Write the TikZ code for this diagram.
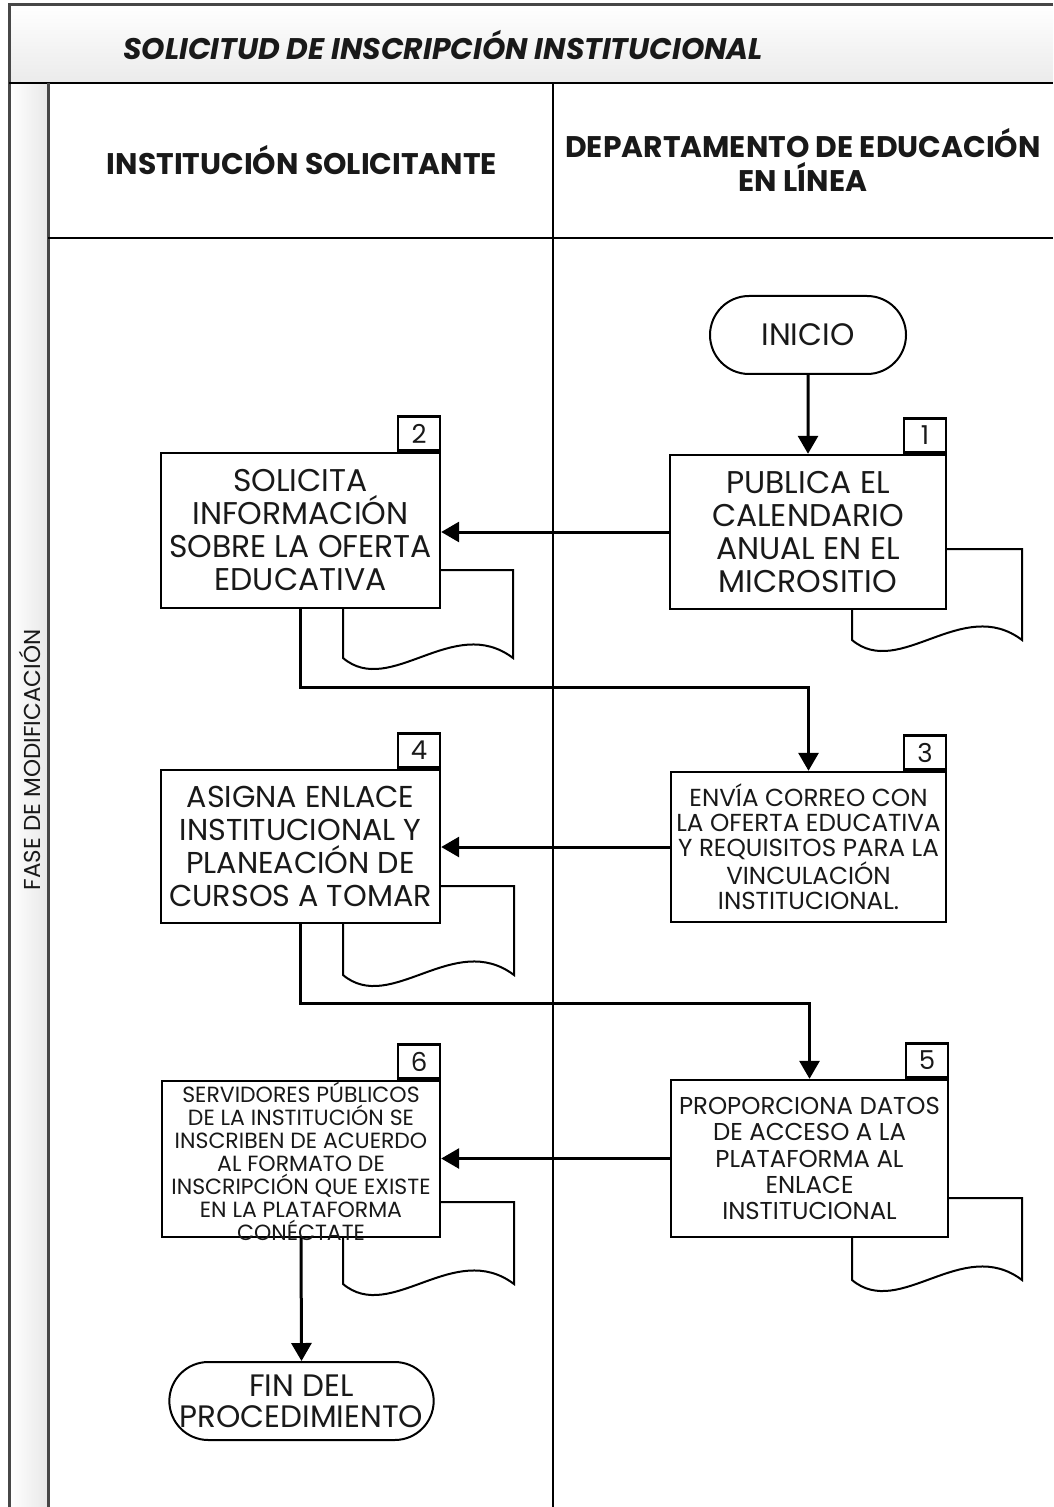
\documentclass[tikz,border=0pt]{standalone}
\usepackage{fontspec}
\setmainfont{Poppins}
\usetikzlibrary{arrows.meta,shapes.misc,calc}
\newcommand{\mydoc}[4]{%
  \draw[doc] (#1,#3) -- (#1,#4) .. controls ($(#1,#4)+(0.28*#2-0.28*#1,40)$) and ($(#1,#4)+(0.65*#2-0.65*#1,-45)$) .. (#2,#4) -- (#2,#3) -- cycle;}
\begin{document}
\begin{tikzpicture}[x=0.5pt,y=-0.5pt,
  proc/.style={draw=black, line width=1.2pt, fill=white, align=center, inner sep=0pt, text=black!90, font=\fontsize{15.7}{16.5}\selectfont},
  numbox/.style={draw=black, line width=1.2pt, fill=white, minimum width=21pt, minimum height=17pt, inner sep=0pt, anchor=south east, font=\fontsize{13}{15}\selectfont, text=black!90},
  term/.style={draw=black, line width=1pt, rounded rectangle, fill=white, align=center, inner sep=0pt, text=black!90, font=\fontsize{15.5}{15.5}\selectfont},
  doc/.style={draw=black, line width=1pt, fill=white},
  flow/.style={line width=1.5pt, -{Triangle[length=9pt,width=10pt]}},
  lane/.style={line width=1.3pt},
  frame/.style={draw=black!72, line width=1.5pt},
  hdr/.style={font=\fontsize{14.9}{17}\selectfont\bfseries, align=center, text=black!90},
]
\useasboundingbox (0,0) rectangle (1053,1507);
% backgrounds
\shade[top color=white, bottom color=black!8] (9,5) rectangle (1053,83);
\shade[left color=white, right color=black!9] (9,83) rectangle (48,1507);
% lane lines
\draw[frame] (1053,5) -- (9,5) -- (9,1507);
\draw[lane] (9,83) -- (1053,83);
\draw[frame] (48,83) -- (48,1507);
\draw[lane] (553,83) -- (553,1507);
\draw[lane] (48,238) -- (1053,238);
% titles
\node[anchor=west, font=\fontsize{14.9}{16}\selectfont\bfseries\itshape, text=black!90] (title) at (116,45) {SOLICITUD DE INSCRIPCIÓN INSTITUCIONAL};
\node[hdr] (h1) at (302,160) {INSTITUCIÓN SOLICITANTE};
\node[hdr] (h2) at (803,160) {DEPARTAMENTO DE EDUCACIÓN\\EN LÍNEA};
\node[rotate=90, font=\fontsize{11.5}{13}\selectfont, text=black!90] (phase) at (30,760) {FASE DE MODIFICACIÓN};
% documents
\mydoc{852}{1022}{549}{640}
\mydoc{343}{513}{570}{658}
\mydoc{343}{514}{886}{975}
\mydoc{852}{1022}{1198}{1280}
\mydoc{343}{514}{1202}{1284}
% nodes
\node[term, minimum width=98pt, minimum height=39pt] (ini) at (808,335) {INICIO};
\node[proc, minimum width=138pt, minimum height=77pt] (b1) at (808,532) {PUBLICA EL\\CALENDARIO\\ANUAL EN EL\\MICROSITIO};
\node[numbox] (n1) at (b1.north east) {1};
\node[proc, minimum width=139.5pt, minimum height=77.5pt] (b2) at (300.5,530.5) {SOLICITA\\INFORMACIÓN\\SOBRE LA OFERTA\\EDUCATIVA};
\node[numbox] (n2) at (b2.north east) {2};
\node[proc, minimum width=137.5pt, minimum height=75pt, font=\fontsize{12.3}{12.5}\selectfont] (b3) at (808.5,847) {ENVÍA CORREO CON\\LA OFERTA EDUCATIVA\\Y REQUISITOS PARA LA\\VINCULACIÓN\\INSTITUCIONAL.};
\node[numbox] (n3) at (b3.north east) {3};
\node[proc, minimum width=139.5pt, minimum height=76.5pt, font=\fontsize{15.1}{16.5}\selectfont] (b4) at (300.5,846.5) {ASIGNA ENLACE\\INSTITUCIONAL Y\\PLANEACIÓN DE\\CURSOS A TOMAR};
\node[numbox] (n4) at (b4.north east) {4};
\node[proc, minimum width=138.5pt, minimum height=78.5pt, font=\fontsize{12.2}{13.2}\selectfont] (b5) at (809.5,1158.5) {PROPORCIONA DATOS\\DE ACCESO A LA\\PLATAFORMA AL\\ENLACE\\INSTITUCIONAL};
\node[numbox] (n5) at (b5.north east) {5};
\node[proc, minimum width=139pt, minimum height=78pt] (b6) at (301,1159) {};
\node[numbox] (n6) at (b6.north east) {6};
\node[align=center, inner sep=0pt, text=black!90, font=\fontsize{11}{11.5}\selectfont] (t6) at (301,1161) {SERVIDORES PÚBLICOS\\DE LA INSTITUCIÓN SE\\INSCRIBEN DE ACUERDO\\AL FORMATO DE\\INSCRIPCIÓN QUE EXISTE\\EN LA PLATAFORMA\\CONÉCTATE};
\node[term, minimum width=131.5pt, minimum height=39pt] (fin) at (301.5,1401) {FIN DEL\\PROCEDIMIENTO};
% junctions
\coordinate (j1) at (302,687);
\coordinate (j2) at (302,1003);
% connectors
\draw[flow] (ini) -- (b1);
\draw[flow] (b1.west) -- (b1.west -| b2.east);
\draw[flow] (b2.south) -- (b2.south |- j1) -| (b3.north);
\draw[flow] (b3.west) -- (b3.west -| b4.east);
\draw[flow] (b4.south) -- (b4.south |- j2) -| (b5.north);
\draw[flow] (b5.west) -- (b5.west -| b6.east);
\draw[flow] (b6.south) -- (fin.north);
\end{tikzpicture}
\end{document}
